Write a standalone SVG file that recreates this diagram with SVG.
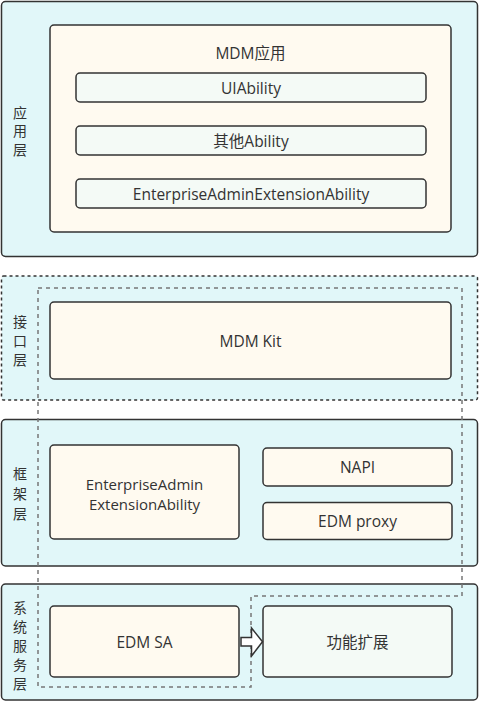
<svg xmlns="http://www.w3.org/2000/svg" width="480" height="702" viewBox="0 0 480 702">
<style>
.layer{fill:#e1f7f9;stroke:#333;stroke-width:1.5}
.dlayer{fill:#e1f7f9;stroke:#333;stroke-width:1.5;stroke-dasharray:3 3}
.box{fill:#fffaf0;stroke:#333;stroke-width:1.5}
.sub{fill:#f4faf6;stroke:#333;stroke-width:1.5}
text{font-family:"Open Sans","Noto Sans CJK SC",sans-serif;font-size:15.5px;fill:#333;text-anchor:middle;dominant-baseline:central}
.lbl{font-size:14px}
.two{font-size:15px}
</style>
<g id="layer-app">
<rect class="layer" x="1.5" y="1.5" width="476" height="255" rx="4"/>
<text class="lbl" x="20" y="112">应</text>
<text class="lbl" x="20" y="130.5">用</text>
<text class="lbl" x="20" y="149">层</text>
</g>
<g id="mdm-app">
<rect class="box" x="50" y="25" width="401" height="207" rx="4"/>
<text x="250.5" y="53">MDM应用</text>
</g>
<g id="uiability">
<rect class="sub" x="76" y="73" width="350" height="29" rx="4"/>
<text x="251" y="88">UIAbility</text>
</g>
<g id="other-ability">
<rect class="sub" x="76" y="126" width="350" height="29" rx="4"/>
<text x="251" y="141">其他Ability</text>
</g>
<g id="eaea-app">
<rect class="sub" x="76" y="179" width="350" height="29" rx="4"/>
<text x="251" y="194">EnterpriseAdminExtensionAbility</text>
</g>
<g id="layer-interface">
<rect class="dlayer" x="1.5" y="276" width="476" height="124" rx="2"/>
<text class="lbl" x="20" y="321">接</text>
<text class="lbl" x="20" y="340">口</text>
<text class="lbl" x="20" y="359">层</text>
</g>
<g id="layer-framework">
<rect class="layer" x="1.5" y="419.5" width="476" height="146.5" rx="4"/>
<text class="lbl" x="20" y="473">框</text>
<text class="lbl" x="20" y="493">架</text>
<text class="lbl" x="20" y="513">层</text>
</g>
<g id="layer-system">
<rect class="layer" x="1.5" y="584" width="476" height="116" rx="4"/>
<text class="lbl" x="20" y="607">系</text>
<text class="lbl" x="20" y="626">统</text>
<text class="lbl" x="20" y="645">服</text>
<text class="lbl" x="20" y="664">务</text>
<text class="lbl" x="20" y="683">层</text>
</g>
<g id="mdm-kit">
<rect class="box" x="50" y="302" width="401" height="77" rx="4"/>
<text x="250.5" y="340.5">MDM Kit</text>
</g>
<g id="eaea-fw">
<rect class="box" x="50" y="445" width="189" height="94" rx="4"/>
<text class="two" x="144.5" y="483.5">EnterpriseAdmin</text>
<text class="two" x="144.5" y="504">ExtensionAbility</text>
</g>
<g id="napi">
<rect class="box" x="263" y="448" width="189" height="38" rx="4"/>
<text x="357.5" y="467">NAPI</text>
</g>
<g id="edm-proxy">
<rect class="box" x="263" y="502.5" width="189" height="37" rx="4"/>
<text x="357.5" y="521">EDM proxy</text>
</g>
<g id="edm-sa">
<rect class="box" x="50" y="606" width="189" height="71" rx="4"/>
<text x="144.5" y="642">EDM SA</text>
</g>
<g id="func-ext">
<rect class="sub" x="263" y="606" width="189" height="71" rx="4"/>
<text x="357.5" y="642">功能扩展</text>
</g>
<g id="connectors">
<path d="M38,288 H462 V596 H251 V687 H38 Z" fill="none" stroke="#777" stroke-width="1.5" stroke-dasharray="4 4"/>
<path d="M241,637.5 H251.5 V628 L262.5,641.7 L251.5,656 V646 H241 Z" fill="#fff" stroke="#333" stroke-width="1.5" stroke-linejoin="miter"/>
</g>
</svg>
